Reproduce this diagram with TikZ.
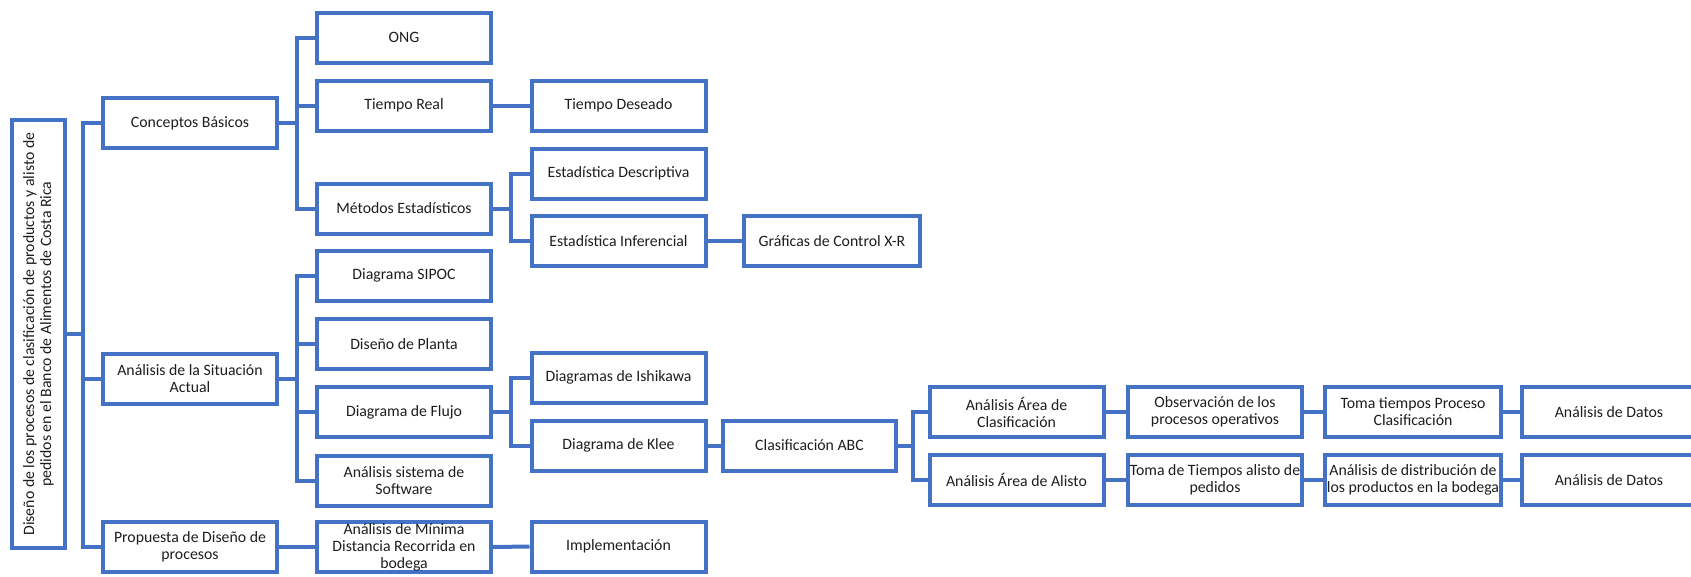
\documentclass[tikz,border=0pt]{standalone}
\usepackage{fontspec}
\setmainfont{Carlito}
\definecolor{boxblue}{HTML}{4472C4}
\definecolor{txt}{HTML}{1E1E1E}
\newcommand\boxfont{\fontsize{15.8}{17}\selectfont}
\tikzset{
  box/.style={draw=boxblue, line width=4pt, minimum width=174pt, minimum height=50pt,
    inner sep=0pt, align=center, font=\boxfont, text=txt, fill=white},
  link/.style={draw=boxblue, line width=4pt},
}
\begin{document}
\begin{tikzpicture}[x=1pt,y=-1pt]
\useasboundingbox (0,0) rectangle (1691,576);
\clip (0,0) rectangle (1691,576);
% trunk positions
\coordinate (t0) at (83,0);
\coordinate (t1) at (297,0);
\coordinate (t2) at (511,0);
\coordinate (t3) at (913,0);
% root
\node[box, rotate=90, minimum width=428pt, minimum height=53pt] (root) at (38.5,334)
  {Diseño de los procesos de clasificación de productos y alisto de\\pedidos en el Banco de Alimentos de Costa Rica};
% level 1
\node[box] (cb)  at (190,123)   {Conceptos Básicos};
\node[box] (asa) at (190,378.5) {Análisis de la Situación\\Actual};
\node[box] (pdp) at (190,547)   {Propuesta de Diseño de\\procesos};
% level 2
\node[box] (ong)   at (404,37.5)  {ONG};
\node[box] (tr)    at (404,105.5) {Tiempo Real};
\node[box] (me)    at (404,208.5) {Métodos Estadísticos};
\node[box] (sipoc) at (404,275.5) {Diagrama SIPOC};
\node[box] (dp)    at (404,344)   {Diseño de Planta};
\node[box] (df)    at (404,412)   {Diagrama de Flujo};
\node[box] (ass)   at (404,480.5) {Análisis sistema de\\Software};
\node[box] (amd)   at (404,547)   {Análisis de Mínima\\Distancia Recorrida en\\bodega};
% level 3
\node[box] (td)  at (618.5,105.5) {Tiempo Deseado};
\node[box] (ed)  at (618.5,173.5) {Estadística Descriptiva};
\node[box] (ei)  at (618.5,241)   {Estadística Inferencial};
\node[box] (dis) at (618.5,377.5) {Diagramas de Ishikawa};
\node[box] (dk)  at (618.5,445.5) {Diagrama de Klee};
\node[box] (imp) at (618.5,546.5) {Implementación};
% level 4
\node[box, minimum width=176pt] (gc)  at (832,241)     {Gráficas de Control X-R};
\node[box, minimum width=173pt] (abc) at (809.5,445.5) {Clasificación ABC};
% level 5-8
\node[box] (aac)  at (1016.5,412) {Análisis Área de\\Clasificación};
\node[box] (aaa)  at (1016.5,480) {Análisis Área de Alisto};
\node[box] (obs)  at (1215,412)   {Observación de los\\procesos operativos};
\node[box] (ttap) at (1215,480)   {Toma de Tiempos alisto de\\pedidos};
\node[box, minimum width=176pt] (ttpc) at (1413,412) {Toma tiempos Proceso\\Clasificación};
\node[box, minimum width=176pt] (adp)  at (1413,480) {Análisis de distribución de\\los productos en la bodega};
\node[box] (ad1) at (1609,412) {Análisis de Datos};
\node[box] (ad2) at (1609,480) {Análisis de Datos};
% connectors
\foreach \c in {cb,asa,pdp}
  \draw[link] (root.south) -- (root.south -| t0) |- (\c.west);
\foreach \c in {ong,tr,me}
  \draw[link] (cb.east) -- (cb.east -| t1) |- (\c.west);
\foreach \c in {sipoc,dp,df,ass}
  \draw[link] (asa.east) -- (asa.east -| t1) |- (\c.west);
\draw[link] (pdp.east) -- (amd.west);
\draw[link] (amd.east) -- (imp.west);
\draw[link] (tr.east) -- (td.west);
\foreach \c in {ed,ei}
  \draw[link] (me.east) -- (me.east -| t2) |- (\c.west);
\foreach \c in {dis,dk}
  \draw[link] (df.east) -- (df.east -| t2) |- (\c.west);
\draw[link] (ei.east) -- (gc.west);
\draw[link] (dk.east) -- (abc.west);
\foreach \c in {aac,aaa}
  \draw[link] (abc.east) -- (abc.east -| t3) |- (\c.west);
\draw[link] (aac.east) -- (obs.west);
\draw[link] (obs.east) -- (ttpc.west);
\draw[link] (ttpc.east) -- (ad1.west);
\draw[link] (aaa.east) -- (ttap.west);
\draw[link] (ttap.east) -- (adp.west);
\draw[link] (adp.east) -- (ad2.west);
\end{tikzpicture}
\end{document}
